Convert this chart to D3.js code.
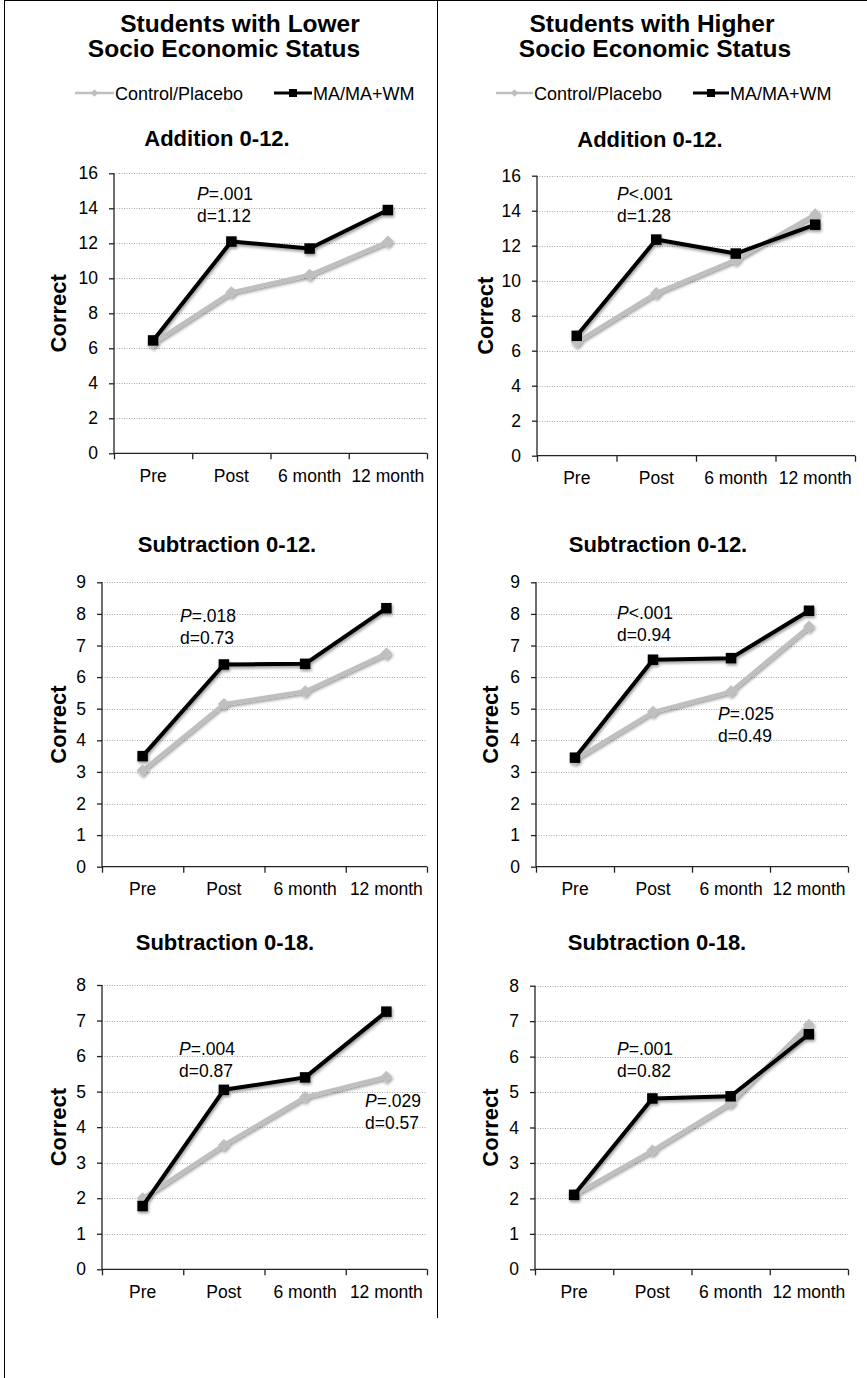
<!DOCTYPE html>
<html>
<head>
<meta charset="utf-8">
<script src="https://cdn.jsdelivr.net/npm/d3@7"></script>
<style>
  html, body { margin: 0; padding: 0; background: #fff; }
  svg { display: block; }
  text { font-family: "Liberation Sans", Arial, Helvetica, sans-serif; fill: #000; }
</style>
</head>
<body>
<svg id="chart" width="867" height="1378"></svg>
<script>
// ---------- DATA ----------
const categories = ["Pre", "Post", "6 month", "12 month"];
const seriesNames = ["Control/Placebo", "MA/MA+WM"];
const columnTitles = [["Students with Lower", "Socio Economic Status"], ["Students with Higher", "Socio Economic Status"]];
const panelTitles = ["Addition 0-12.", "Subtraction 0-12.", "Subtraction 0-18."];
const yLabel = "Correct";

const additionTicks = [0, 2, 4, 6, 8, 10, 12, 14, 16];
const sub12Ticks = [0, 1, 2, 3, 4, 5, 6, 7, 8, 9];
const sub18Ticks = [0, 1, 2, 3, 4, 5, 6, 7, 8];

const lowerAddControl = [6.3, 9.2, 10.2, 12.1];
const lowerAddMA = [6.45, 12.1, 11.7, 13.9];
const higherAddControl = [6.5, 9.3, 11.2, 13.8];
const higherAddMA = [6.85, 12.35, 11.55, 13.2];

const lowerSub12Control = [3.05, 5.15, 5.55, 6.75];
const lowerSub12MA = [3.5, 6.4, 6.42, 8.18];
const higherSub12Control = [3.4, 4.9, 5.55, 7.6];
const higherSub12MA = [3.45, 6.55, 6.6, 8.1];

const lowerSub18Control = [2.0, 3.5, 4.85, 5.42];
const lowerSub18MA = [1.78, 5.05, 5.4, 7.25];
const higherSub18Control = [2.1, 3.35, 4.7, 6.9];
const higherSub18MA = [2.1, 4.82, 4.88, 6.63];

const annoLowerAdd = [["P", "=.001", "d=1.12"]];
const annoHigherAdd = [["P", "<.001", "d=1.28"]];
const annoLowerSub12 = [["P", "=.018", "d=0.73"]];
const annoHigherSub12 = [["P", "<.001", "d=0.94"], ["P", "=.025", "d=0.49"]];
const annoLowerSub18 = [["P", "=.004", "d=0.87"], ["P", "=.029", "d=0.57"]];
const annoHigherSub18 = [["P", "=.001", "d=0.82"]];

// ---------- LAYOUT ----------
const panels = [
  { ctrl: lowerAddControl, ma: lowerAddMA, ticks: additionTicks, title: panelTitles[0], anno: annoLowerAdd,
    x0: 114, x1: 427, yTop: 173.3, yBot: 453.3, titleX: 217, titleY: 146, labelX: 66, annoPos: [[197, 200]] },
  { ctrl: higherAddControl, ma: higherAddMA, ticks: additionTicks, title: panelTitles[0], anno: annoHigherAdd,
    x0: 537, x1: 855, yTop: 175.7, yBot: 455.7, titleX: 650, titleY: 147, labelX: 493, annoPos: [[617, 200]] },
  { ctrl: lowerSub12Control, ma: lowerSub12MA, ticks: sub12Ticks, title: panelTitles[1], anno: annoLowerSub12,
    x0: 102, x1: 427, yTop: 582.3, yBot: 866.7, titleX: 227, titleY: 552, labelX: 66, annoPos: [[180, 622]] },
  { ctrl: higherSub12Control, ma: higherSub12MA, ticks: sub12Ticks, title: panelTitles[1], anno: annoHigherSub12,
    x0: 536, x1: 848, yTop: 582.3, yBot: 866.7, titleX: 658, titleY: 552, labelX: 498, annoPos: [[617, 619], [718, 720]] },
  { ctrl: lowerSub18Control, ma: lowerSub18MA, ticks: sub18Ticks, title: panelTitles[2], anno: annoLowerSub18,
    x0: 102, x1: 427, yTop: 985, yBot: 1269.3, titleX: 225, titleY: 950, labelX: 66, annoPos: [[179, 1055], [365, 1107]] },
  { ctrl: higherSub18Control, ma: higherSub18MA, ticks: sub18Ticks, title: panelTitles[2], anno: annoHigherSub18,
    x0: 535, x1: 848, yTop: 985.7, yBot: 1269.3, titleX: 657, titleY: 950, labelX: 498, annoPos: [[617, 1055]] }
];

const GREY = "#bfbfbf";
const svg = d3.select("#chart");

// shadow filter
const defs = svg.append("defs");
const f = defs.append("filter").attr("id", "sh").attr("x", "-30%").attr("y", "-30%").attr("width", "160%").attr("height", "160%");
f.append("feDropShadow").attr("dx", 1).attr("dy", 2).attr("stdDeviation", 1.8)
  .attr("flood-color", "#000").attr("flood-opacity", 0.4);

// frame lines
svg.append("line").attr("x1", 4.5).attr("x2", 4.5).attr("y1", 0).attr("y2", 1378).attr("stroke", "#000").attr("stroke-width", 1);
svg.append("line").attr("x1", 4).attr("x2", 867).attr("y1", 0.5).attr("y2", 0.5).attr("stroke", "#000").attr("stroke-width", 1);
svg.append("line").attr("x1", 437.5).attr("x2", 437.5).attr("y1", 0).attr("y2", 1318).attr("stroke", "#000").attr("stroke-width", 1);

// column titles
const titlePos = [[[240, 31.5], [224, 57]], [[652, 31.5], [655, 57]]];
columnTitles.forEach((lines, c) => {
  lines.forEach((t, i) => {
    svg.append("text").attr("x", titlePos[c][i][0]).attr("y", titlePos[c][i][1])
      .attr("text-anchor", "middle").attr("font-size", 24.5).attr("font-weight", "bold").text(t);
  });
});

// legends
const legendPos = [
  { g0: 75, g1: 114, gt: 115, b0: 274, b1: 312, bt: 313 },
  { g0: 496, g1: 533, gt: 534, b0: 693, b1: 729, bt: 730 }
];
legendPos.forEach(L => {
  const ly = 93;
  svg.append("line").attr("x1", L.g0).attr("x2", L.g1).attr("y1", ly).attr("y2", ly).attr("stroke", GREY).attr("stroke-width", 2.5);
  svg.append("path").attr("d", d3.symbol(d3.symbolSquare, 30)()).attr("transform", `translate(${(L.g0 + L.g1) / 2},${ly}) rotate(45)`).attr("fill", GREY);
  svg.append("text").attr("x", L.gt).attr("y", 100).attr("font-size", 18).text(seriesNames[0]);
  svg.append("line").attr("x1", L.b0).attr("x2", L.b1).attr("y1", ly).attr("y2", ly).attr("stroke", "#000").attr("stroke-width", 3);
  svg.append("path").attr("d", d3.symbol(d3.symbolSquare, 64)()).attr("transform", `translate(${(L.b0 + L.b1) / 2},${ly})`).attr("fill", "#000");
  svg.append("text").attr("x", L.bt).attr("y", 100).attr("font-size", 18).text(seriesNames[1]);
});

// panels
panels.forEach(p => {
  const g = svg.append("g");
  const yMax = d3.max(p.ticks);
  const y = d3.scaleLinear().domain([0, yMax]).range([p.yBot, p.yTop]);
  const xb = d3.scaleBand().domain(categories).range([p.x0, p.x1]).padding(0);
  const xEdge = d3.scaleLinear().domain([0, categories.length]).range([p.x0, p.x1]);

  // title
  g.append("text").attr("x", p.titleX).attr("y", p.titleY).attr("text-anchor", "middle")
    .attr("font-size", 22).attr("font-weight", "bold").text(p.title);

  // gridlines
  g.append("g").selectAll("line").data(p.ticks.filter(t => t > 0)).join("line")
    .attr("x1", p.x0).attr("x2", p.x1)
    .attr("y1", d => Math.round(y(d)) + 0.5).attr("y2", d => Math.round(y(d)) + 0.5)
    .attr("stroke", "#a8a8a8").attr("stroke-width", 1).attr("stroke-dasharray", "1,1.5");

  // y axis
  const ya = g.append("g").attr("transform", `translate(${p.x0},0)`)
    .call(d3.axisLeft(y).tickValues(p.ticks).tickSize(5).tickPadding(11).tickFormat(d3.format("d")));
  ya.select(".domain").attr("stroke", "#222").attr("stroke-width", 1.3).attr("d", `M0,${p.yTop}V${p.yBot}`);
  ya.selectAll(".tick line").attr("stroke", "#222").attr("stroke-width", 1.3);
  ya.selectAll(".tick text").attr("font-size", 17.5).attr("font-family", "Liberation Sans, Arial, sans-serif").attr("fill", "#000");

  // x axis ticks at band edges
  const xa = g.append("g").attr("transform", `translate(0,${p.yBot})`)
    .call(d3.axisBottom(xEdge).tickValues(d3.range(categories.length + 1)).tickSize(6).tickFormat(""));
  xa.select(".domain").attr("stroke", "#222").attr("stroke-width", 1.3).attr("d", `M${p.x0},0H${p.x1}`);
  xa.selectAll(".tick line").attr("stroke", "#222").attr("stroke-width", 1.3);

  // x labels
  const xl = g.append("g").attr("transform", `translate(0,${p.yBot})`)
    .call(d3.axisBottom(xb).tickSize(0).tickPadding(16));
  xl.select(".domain").remove();
  xl.selectAll(".tick text").attr("font-size", 17.5).attr("font-family", "Liberation Sans, Arial, sans-serif").attr("fill", "#000");

  // y label
  g.append("text").attr("transform", `translate(${p.labelX},${(p.yTop + p.yBot) / 2}) rotate(-90)`)
    .attr("text-anchor", "middle").attr("font-size", 22).attr("font-weight", "bold").text(yLabel);

  // series
  const cx = (d, i) => xb(categories[i]) + xb.bandwidth() / 2;
  const line = d3.line().x(cx).y(d => y(d));
  const sg = g.append("g").attr("filter", "url(#sh)");
  sg.append("path").datum(p.ctrl).attr("d", line).attr("fill", "none").attr("stroke", GREY).attr("stroke-width", 4).attr("stroke-linejoin", "round");
  sg.selectAll(".dm").data(p.ctrl).join("path").attr("class", "dm")
    .attr("d", d3.symbol(d3.symbolSquare, 72)())
    .attr("transform", (d, i) => `translate(${cx(d, i)},${y(d)}) rotate(45)`).attr("fill", GREY);
  sg.append("path").datum(p.ma).attr("d", line).attr("fill", "none").attr("stroke", "#000").attr("stroke-width", 4).attr("stroke-linejoin", "round");
  sg.selectAll(".sq").data(p.ma).join("path").attr("class", "sq")
    .attr("d", d3.symbol(d3.symbolSquare, 110)())
    .attr("transform", (d, i) => `translate(${cx(d, i)},${y(d)})`).attr("fill", "#000");

  // annotations
  p.anno.forEach((a, i) => {
    const [ax, ay] = p.annoPos[i];
    const t = g.append("text").attr("x", ax).attr("y", ay).attr("font-size", 17.5);
    t.append("tspan").attr("font-style", "italic").text(a[0]);
    t.append("tspan").text(a[1]);
    g.append("text").attr("x", ax).attr("y", ay + 22).attr("font-size", 17.5).text(a[2]);
  });
});
</script>
</body>
</html>
